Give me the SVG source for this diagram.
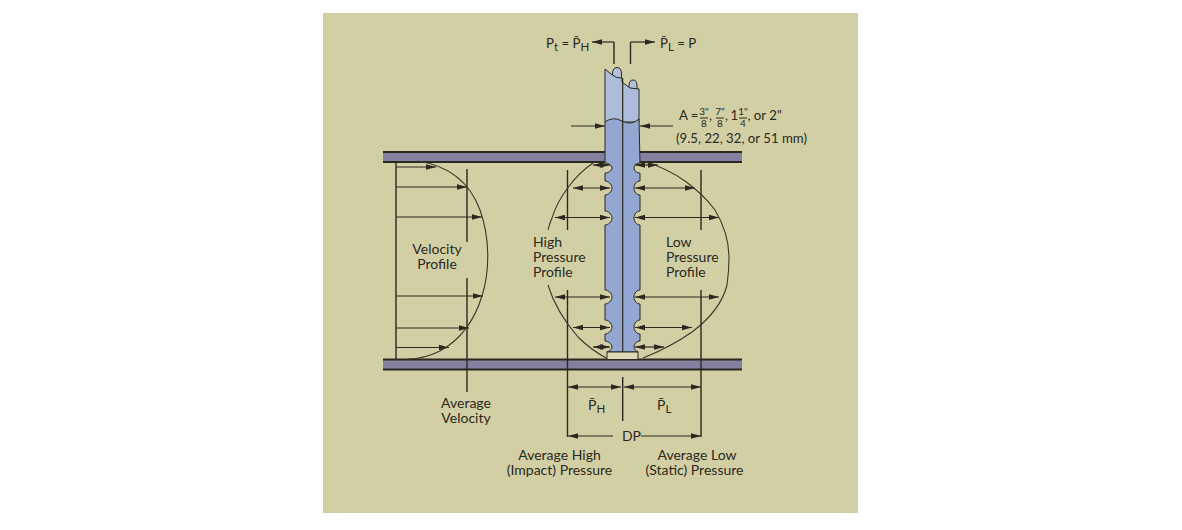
<svg xmlns="http://www.w3.org/2000/svg" width="1182" height="530" viewBox="0 0 1182 530">
<style>
text{font-family:Lato,"Noto Sans","Liberation Sans",sans-serif;font-size:14px;fill:#2a2920;text-anchor:middle}
.s{text-anchor:start}
.f{font-size:10px}
.sub{font-size:11.5px}
.m{font-size:13.2px}
.l{stroke:#2a2920;stroke-width:1.4;fill:none}
.a{stroke:#2a2920;stroke-width:1.2;fill:none;marker-end:url(#ah)}
.b{stroke:#2a2920;stroke-width:1.2;fill:none;marker-end:url(#ah);marker-start:url(#ah)}
.c{stroke:#3a382a;stroke-width:1.1;fill:none}
.wall{fill:#84809f;stroke:none}
.edge{stroke:#2a2920;stroke-width:1.8;fill:none}
.o{stroke:#2a2920;stroke-width:1}
</style>
<defs>
<marker id="ah" markerUnits="userSpaceOnUse" markerWidth="11" markerHeight="7" refX="10" refY="3.500" orient="auto-start-reverse"><path d="M0 .8L10 3.500L0 6.200Z" fill="#2a2920"/></marker>
</defs>
<rect width="1182" height="530" fill="#fff"/>
<rect x="323" y="13" width="535" height="500" fill="#d3cfa5"/>

<g id="pipe-top"><rect class="wall" x="383" y="152" width="359" height="10"/><path class="edge" d="M383 152H742M383 162H605M640 162H742"/></g>
<g id="pipe-bottom"><rect class="wall" x="383" y="360" width="359" height="10"/><path class="edge" d="M383 359.500H742M383 369.500H742"/></g>

<g id="probe">
<path class="o" fill="#b3c0dc" d="M612.500 74Q612.500 67.500 617 67.500Q621.500 67.500 621.500 74V80H612.500Z"/>
<path class="o" fill="#b3c0dc" d="M629 86Q629 80 633 80Q637 80 637 86V92H629Z"/>
<path class="o" fill="#aebcdb" d="M605 69L611 74Q617 79 622 78V82L630 88L639 89V122H605Z"/>
<path class="o" fill="#93a7d2" d="M605 122Q613 116 622 121Q631 126 639 119L640 163
C637 163 634 165 634 168C634 171 637 173 640 173V181
C637 181 634 184 634 188C634 192 637 195 640 195V211
C637 211 634 214 634 218C634 222 637 225 640 225V290
C637 290 634 293 634 297C634 301 637 304 640 304V320
C637 320 634 323 634 327C634 331 637 334 640 334V341
C637 341 634 344 634 347C634 349 636 351 638 352H607
C610 351 612 349 612 347C612 344 608 341 605 341V334
C608 334 612 331 612 327C612 323 608 320 605 320V304
C608 304 612 301 612 297C612 293 608 290 605 290V225
C608 225 612 222 612 218C612 214 608 211 605 211V195
C608 195 612 192 612 188C612 184 608 181 605 181V173
C608 173 612 171 612 168C612 165 608 163 605 163Z"/>
<path d="M622.700 78V352" stroke="#2a2920" stroke-width="1.2" fill="none"/>
<rect class="o" x="607" y="352" width="31" height="7.500" fill="#dcd9b4"/>
</g>

<g id="connectors">
<path class="l" d="M614 64V42"/><path class="a" d="M614 42H592"/>
<path class="l" d="M630.500 64V42"/><path class="a" d="M630.500 42H655"/>
<path class="a" d="M571 126H605"/><path class="a" d="M673 126H640"/>
<path class="l" d="M396 161V359"/>
<path class="a" d="M396 167H436"/><path class="a" d="M396 187H467"/><path class="a" d="M396 217H482"/><path class="a" d="M396 296H483"/><path class="a" d="M396 328H469"/><path class="a" d="M396 347.500H449"/>
<path class="l" d="M467 169V242M467 278V392"/>
<path class="c" d="M418 161C450 166 470 183 480 210C490 238 490 270 482 296C474 322 460 340 440 351C430 356 420 359 408 359"/>
<path class="l" d="M567.500 170V230M567.500 290V437M701 170V230M701 290V437M622.700 377V421"/>
<path class="b" d="M593 165H610"/><path class="b" d="M573 188H610"/><path class="b" d="M555 217.500H610"/>
<path class="b" d="M555 297H610"/><path class="b" d="M573 327.500H610"/><path class="b" d="M593 347H610"/>
<path class="b" d="M635 165H658"/><path class="b" d="M635 188H695"/><path class="b" d="M635 217.500H719"/>
<path class="b" d="M635 297H719"/><path class="b" d="M635 327.500H692"/><path class="b" d="M635 347H664"/>
<path class="c" d="M593 163C575 175 558 198 552 218Q549 225 548 230"/>
<path class="c" d="M548 285C554 305 565 322 578 337C588 347 597 353 606 358"/>
<path class="c" d="M645 162C675 170 700 190 715 210C724 225 729 242 729 258C729 270 728 278 727 285C722 305 708 320 692 332C675 344 658 352 643 358"/>
<path class="b" d="M568 387H621"/><path class="b" d="M624 387H701"/>
<path class="a" d="M613 436H568"/><path class="a" d="M641 436H701"/>
</g>

<g id="label-top-left"><text class="s m" x="546" y="48">P<tspan class="sub" dy="3">t</tspan><tspan dy="-3"> = P̄</tspan><tspan class="sub" dy="3">H</tspan></text></g>
<g id="label-top-right"><text class="s m" x="660" y="48">P̄<tspan class="sub" dy="3">L</tspan><tspan dy="-3"> = P</tspan></text></g>
<g id="label-a">
<text class="s m" x="679" y="120">A =</text>
<text class="f" x="704" y="115">3"</text><path class="o" d="M700 118H708"/><text class="f" x="704" y="127">8</text>
<text class="s m" x="709" y="120">,</text>
<text class="f" x="720" y="115">7"</text><path class="o" d="M716 118H724"/><text class="f" x="720" y="127">8</text>
<text class="s m" x="725" y="120">,</text>
<text class="s m" x="730.500" y="120">1</text>
<text class="f" x="743" y="115">1"</text><path class="o" d="M739 118H747"/><text class="f" x="743" y="127">4</text>
<text class="s m" x="747.500" y="120">, or 2"</text>
<text class="s m" x="676" y="143" textLength="131">(9.5, 22, 32, or 51 mm)</text>
</g>
<g id="label-velocity"><text x="437" y="254">Velocity</text><text x="437" y="269">Profile</text></g>
<g id="label-high"><text class="s" x="533" y="247">High</text><text class="s" x="533" y="262">Pressure</text><text class="s" x="533" y="277">Profile</text></g>
<g id="label-low"><text class="s" x="666" y="247">Low</text><text class="s" x="666" y="262">Pressure</text><text class="s" x="666" y="277">Profile</text></g>
<g id="label-avg-vel"><text x="466" y="408">Average</text><text x="466" y="423">Velocity</text></g>
<g id="label-ph"><text class="s" x="588" y="410">P̄<tspan class="sub" dy="3">H</tspan></text></g>
<g id="label-pl"><text class="s" x="657" y="410">P̄<tspan class="sub" dy="3">L</tspan></text></g>
<g id="label-dp"><text x="631.500" y="441">DP</text></g>
<g id="label-avg-high"><text x="559.500" y="460">Average High</text><text x="559.500" y="475">(Impact) Pressure</text></g>
<g id="label-avg-low"><text x="697" y="460">Average Low</text><text x="694.500" y="475">(Static) Pressure</text></g>
</svg>
